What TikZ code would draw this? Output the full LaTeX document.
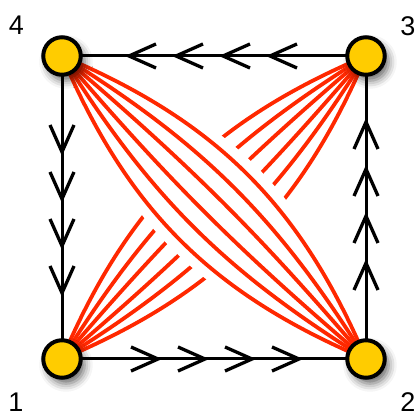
\documentclass[tikz,border=0pt]{standalone}
\usepackage{fontspec}
\setmainfont{Liberation Sans}
\usetikzlibrary{decorations.markings,shadows.blur}
\pgfdeclarelayer{bg}
\pgfsetlayers{bg,main}
\definecolor{nodeyellow}{RGB}{255,204,0}
\definecolor{fanred}{RGB}{255,40,0}
\tikzset{
  vertex/.style={circle, draw=black, line width=4pt, fill=nodeyellow,
    minimum size=37.5pt, inner sep=0pt,
    blur shadow={shadow xshift=4pt, shadow yshift=-6pt, shadow blur radius=8pt, shadow opacity=60}},
  lbl/.style={font=\fontsize{27}{27}\selectfont, inner sep=0pt},
  barb/.style={line width=3.3pt, line join=miter, line cap=butt},
  flow/.style={line width=3pt, postaction={decorate}, decoration={markings,
     mark=at position 96pt with {\draw[barb] (-27pt,12pt) -- (0pt,0pt) -- (-27pt,-12pt);},
     mark=at position 143pt with {\draw[barb] (-27pt,12pt) -- (0pt,0pt) -- (-27pt,-12pt);},
     mark=at position 190pt with {\draw[barb] (-27pt,12pt) -- (0pt,0pt) -- (-27pt,-12pt);},
     mark=at position 237pt with {\draw[barb] (-27pt,12pt) -- (0pt,0pt) -- (-27pt,-12pt);}}},
  fan/.style={draw=fanred, line width=3.8pt, line cap=round},
}
\begin{document}
\begin{tikzpicture}[x=1pt,y=1pt]
\useasboundingbox (0,0) rectangle (417,417);
\node[vertex] (n4) at (62,361) {};
\node[vertex] (n3) at (366,361) {};
\node[vertex] (n1) at (62,58) {};
\node[vertex] (n2) at (366,58) {};
\node[lbl] (l4) at (16.5,392) {4};
\node[lbl] (l3) at (408,391) {3};
\node[lbl] (l1) at (16,15) {1};
\node[lbl] (l2) at (408,15) {2};
\begin{pgfonlayer}{bg}
  \foreach \b in {22,13,4.5} {
    \draw[fan] (n3.center) to[bend left=\b] (n1.center);
    \draw[fan] (n3.center) to[bend right=\b] (n1.center);
  }
  \fill[white] (n4.center) to[bend left=28] (n2.center) to[bend left=28] (n4.center) -- cycle;
  \foreach \b in {22,13,4.5} {
    \draw[fan] (n4.center) to[bend left=\b] (n2.center);
    \draw[fan] (n4.center) to[bend right=\b] (n2.center);
  }
  \draw[flow] (n3.center) -- (n4.center);
  \draw[flow] (n4.center) -- (n1.center);
  \draw[flow] (n1.center) -- (n2.center);
  \draw[flow] (n2.center) -- (n3.center);
\end{pgfonlayer}
\end{tikzpicture}
\end{document}
